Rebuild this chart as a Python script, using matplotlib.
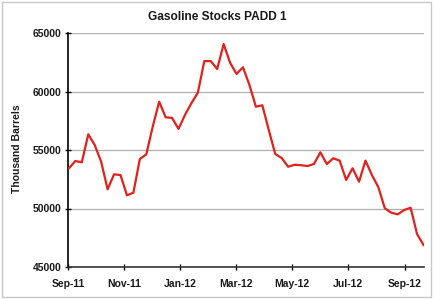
import matplotlib
matplotlib.use("Agg")
import matplotlib.pyplot as plt
import matplotlib.dates as mdates
from matplotlib.patches import Rectangle
import numpy as np
import pandas as pd

title = "Gasoline Stocks PADD 1"
ylabel = "Thousand Barrels"
start_date = "2011-09-02"
stocks = [53440, 54060, 53950, 56340, 55430, 54000, 51640, 52920, 52860, 51130,
          51350, 54230, 54630, 57000, 59130, 57800, 57740, 56800, 58000, 59000,
          59900, 62600, 62600, 61920, 64060, 62460, 61500, 62070, 60560, 58700,
          58820, 56710, 54660, 54320, 53570, 53740, 53700, 53630, 53800, 54800,
          53800, 54290, 54090, 52440, 53440, 52290, 54090, 52860, 51810, 50020,
          49640, 49500, 49870, 50070, 47820, 46880]
tick_months = ["2011-09-01", "2011-11-01", "2012-01-01", "2012-03-01",
               "2012-05-01", "2012-07-01", "2012-09-01"]
yticks = [45000, 50000, 55000, 60000, 65000]

dates = pd.date_range(start_date, periods=len(stocks), freq="7D")

plt.rcParams['font.family'] = ['Liberation Sans', 'DejaVu Sans']
W, H = 434, 299
fig = plt.figure(figsize=(W / 100, H / 100), dpi=100)

# outer frame
fig.patches.append(Rectangle((2 / W, 2 / H), 429 / W, 295 / H, transform=fig.transFigure,
                             fill=False, edgecolor="#c8c8c8", linewidth=1.0))

ax = fig.add_axes([68 / W, 1 - 267 / H, (423.5 - 68) / W, (267 - 33) / H])
ax.plot(dates, stocks, color="#e3201c", linewidth=1.6, zorder=3)

ax.set_ylim(45000, 65000)
ax.set_yticks(yticks)
ax.set_xlim(pd.Timestamp("2011-09-01"), dates[-1])
ax.set_xticks(pd.to_datetime(tick_months))
ax.xaxis.set_major_formatter(mdates.DateFormatter("%b-%y"))

ax.grid(axis="y", color="#b0b0b0", linewidth=0.9)
ax.set_axisbelow(True)
for s in ["top", "right"]:
    ax.spines[s].set_visible(False)
ax.spines["left"].set_color("#000000")
ax.spines["left"].set_linewidth(1.2)
ax.spines["bottom"].set_color("#333333")
ax.spines["bottom"].set_linewidth(1.2)

ax.tick_params(axis="both", direction="inout", length=5, width=1.0,
               labelsize=7.5, colors="#000000")
ax.tick_params(axis="y", pad=2)
ax.tick_params(axis="x", pad=6)
for lbl in ax.get_xticklabels() + ax.get_yticklabels():
    lbl.set_fontweight("bold")
    lbl.set_color("#1a1a1a")

fig.text(217 / W, 1 - 17 / H, title, ha="center", va="center",
         fontsize=8.6, fontweight="bold", color="#1a1a1a")
fig.text(17.5 / W, 1 - 149 / H, ylabel, ha="center", va="center", rotation=90,
         fontsize=7.5, fontweight="bold", color="#1a1a1a")

fig.savefig("out.png", dpi=100)
